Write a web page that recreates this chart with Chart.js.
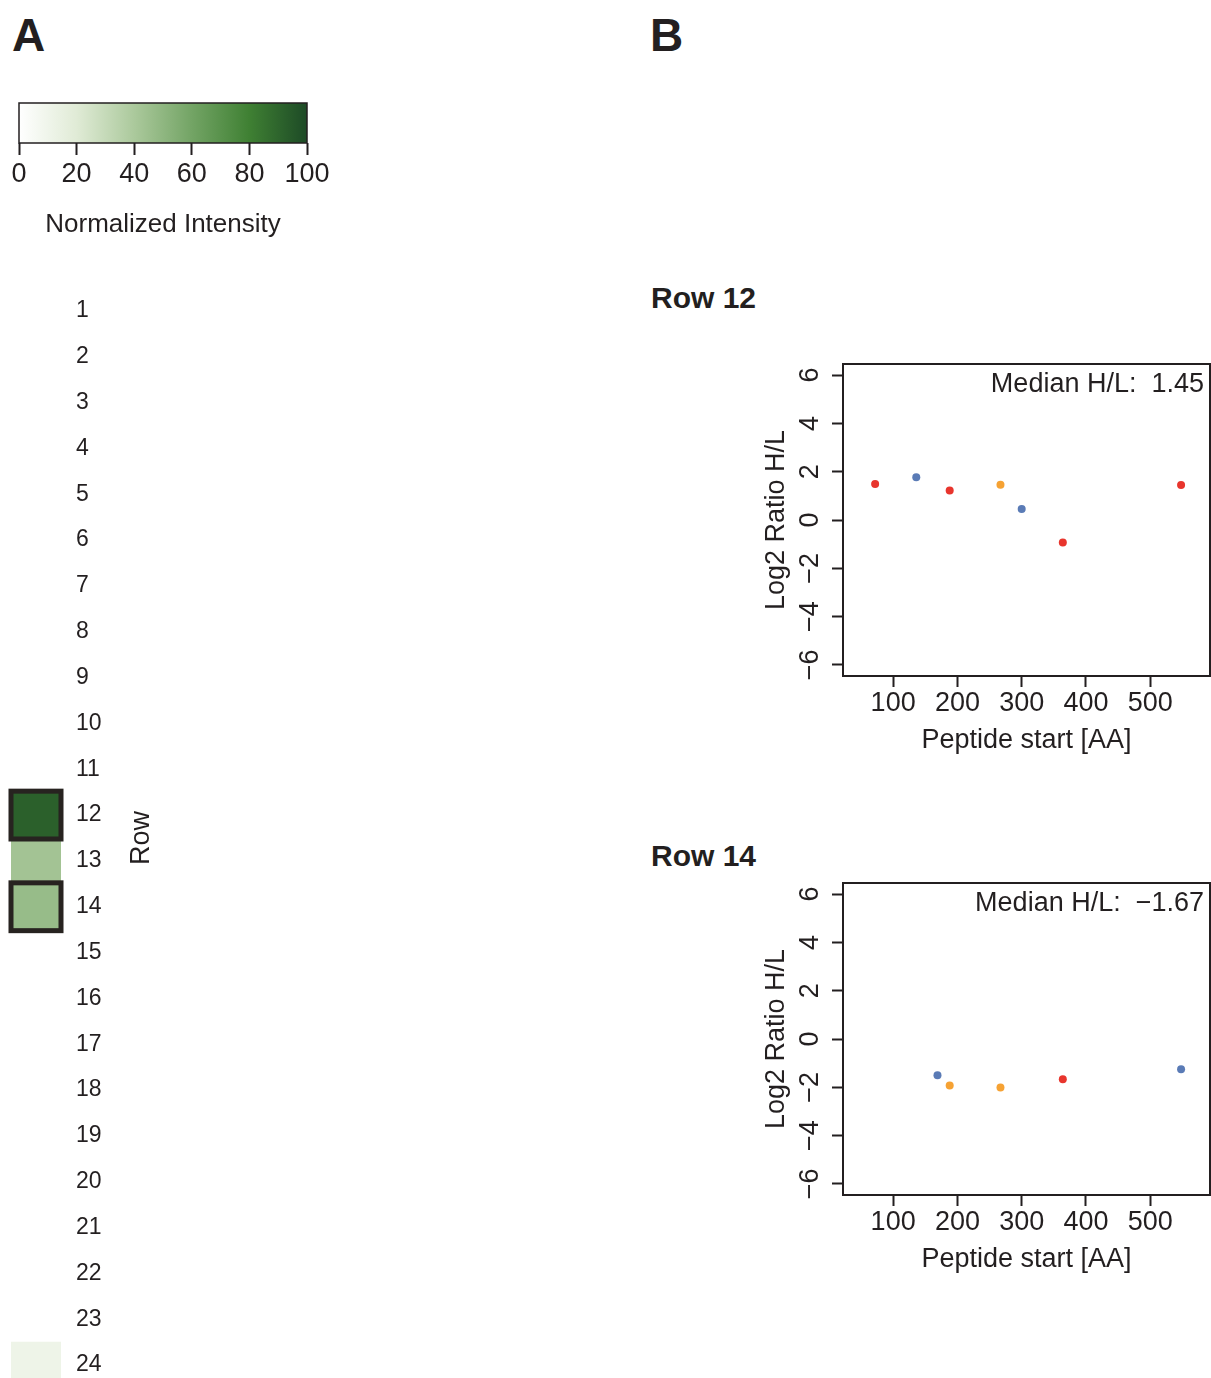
<!DOCTYPE html>
<html>
<head>
<meta charset="utf-8">
<script src="https://cdn.jsdelivr.net/npm/chart.js@4/dist/chart.umd.min.js"></script>
<style>
html, body { margin: 0; padding: 0; background: #fff; overflow: hidden; width: 1211px; height: 1378px; }
body { position: relative; font-family: "Liberation Sans", Arial, sans-serif; color: #231f20; }
.box { position: absolute; }
.lbl { position: absolute; font-weight: bold; line-height: 1; white-space: nowrap; }
</style>
</head>
<body>
<div class="lbl" style="left:12px; top:12px; font-size:46px;">A</div>
<div class="lbl" style="left:650px; top:12px; font-size:46px;">B</div>
<div class="lbl" style="left:651px; top:283px; font-size:30px;">Row 12</div>
<div class="lbl" style="left:651px; top:841px; font-size:30px;">Row 14</div>

<div class="box" style="left:0; top:95px; width:345px; height:160px;"><canvas id="legendBar"></canvas></div>
<div class="box" style="left:0; top:280px; width:170px; height:1110px;"><canvas id="heatCol"></canvas></div>
<div class="box" style="left:740px; top:350px; width:471px; height:420px;"><canvas id="scRow12"></canvas></div>
<div class="box" style="left:740px; top:869px; width:471px; height:420px;"><canvas id="scRow14"></canvas></div>

<script>
// ---- data ----
var rows = ['1','2','3','4','5','6','7','8','9','10','11','12','13','14','15','16','17','18','19','20','21','22','23','24'];
var rowIntensity = [null, null, null, null, null, null, null, null, null, null, null, 92, 43, 47,
                    null, null, null, null, null, null, null, null, null, 11];
var highlightRows = ['12', '14'];
var legendTicks = [0, 20, 40, 60, 80, 100];

var row12Start = [72, 136, 188, 267, 300, 364, 548];
var row12Ratio = [1.49, 1.77, 1.22, 1.46, 0.46, -0.93, 1.45];
var row12Group = ['red', 'blue', 'red', 'orange', 'blue', 'red', 'red'];

var row14Start = [169, 188, 267, 364, 548];
var row14Ratio = [-1.50, -1.93, -2.01, -1.67, -1.25];
var row14Group = ['blue', 'orange', 'orange', 'red', 'blue'];

var medianRatio = [1.45, -1.67];
var xTicks = [100, 200, 300, 400, 500];
var yTicks = [-6, -4, -2, 0, 2, 4, 6];

// ---- style ----
var INK = '#231f20';
var FONT = '"Liberation Sans", Arial, sans-serif';
var groupColors = { red: '#e8352d', blue: '#5a7bb6', orange: '#f6a233' };
var greenStops = [[0, '#ffffff'], [20, '#e0ebd6'], [40, '#abc99c'], [60, '#73a465'], [80, '#3f8033'], [100, '#1d4a26']];

Chart.defaults.font.family = FONT;
Chart.defaults.color = INK;
Chart.defaults.animation = false;

function hexRgb(h) {
    return [parseInt(h.substr(1, 2), 16), parseInt(h.substr(3, 2), 16), parseInt(h.substr(5, 2), 16)];
}
function greenFor(v) {
    for (var i = 1; i < greenStops.length; i++) {
        if (v <= greenStops[i][0]) {
            var a = greenStops[i - 1], b = greenStops[i];
            var t = (v - a[0]) / (b[0] - a[0]);
            var ca = hexRgb(a[1]), cb = hexRgb(b[1]);
            return 'rgb(' + ca.map(function (c, k) { return Math.round(c + (cb[k] - c) * t); }).join(',') + ')';
        }
    }
    return greenStops[greenStops.length - 1][1];
}
function minusFmt(v) { return v < 0 ? '\u2212' + Math.abs(v) : String(v); }

// ---- colour key ----
new Chart(document.getElementById('legendBar'), {
    type: 'scatter',
    data: { datasets: [{ data: [] }] },
    options: {
        responsive: true, maintainAspectRatio: false,
        layout: { autoPadding: false, padding: { left: 19, right: 38, top: 8, bottom: 0 } },
        plugins: { legend: { display: false }, tooltip: { enabled: false } },
        scales: {
            y: { display: false },
            x: {
                type: 'linear', min: 0, max: 100,
                afterBuildTicks: function (s) { s.ticks = legendTicks.map(function (v) { return { value: v }; }); },
                afterFit: function (s) { s.height = 112; },
                grid: { drawOnChartArea: false, tickLength: 12, tickWidth: 2, tickColor: INK },
                border: { display: false },
                ticks: { font: { size: 27 }, padding: 3, maxRotation: 0, autoSkip: false },
                title: { display: true, text: 'Normalized Intensity', font: { size: 26 }, padding: { top: 0, bottom: 15 } }
            }
        }
    },
    plugins: [{
        id: 'gradientBar',
        beforeDatasetsDraw: function (chart) {
            var a = chart.chartArea, s = chart.scales.x, ctx = chart.ctx;
            var g = ctx.createLinearGradient(s.getPixelForValue(0), 0, s.getPixelForValue(100), 0);
            greenStops.forEach(function (st) { g.addColorStop(st[0] / 100, st[1]); });
            ctx.save();
            ctx.fillStyle = g;
            ctx.fillRect(a.left, a.top, a.right - a.left, a.bottom - a.top);
            ctx.strokeStyle = INK; ctx.lineWidth = 1.5;
            ctx.strokeRect(a.left, a.top, a.right - a.left, a.bottom - a.top);
            ctx.restore();
        }
    }]
});

// ---- heatmap column ----
new Chart(document.getElementById('heatCol'), {
    type: 'bar',
    data: {
        labels: rows,
        datasets: [{
            data: rowIntensity.map(function (v) { return v == null ? null : [0, 1]; }),
            backgroundColor: rowIntensity.map(function (v) { return v == null ? 'rgba(0,0,0,0)' : greenFor(v); }),
            borderWidth: 0, barPercentage: 1, categoryPercentage: 1
        }]
    },
    options: {
        indexAxis: 'y',
        responsive: true, maintainAspectRatio: false,
        layout: { autoPadding: false, padding: { left: 11, right: 0, top: 8, bottom: 2 } },
        plugins: { legend: { display: false }, tooltip: { enabled: false } },
        scales: {
            x: { display: false, min: 0, max: 1 },
            y: {
                position: 'right',
                afterFit: function (s) { s.width = 109; s.paddingTop = 0; s.paddingBottom = 0; },
                grid: { display: false, drawTicks: false },
                border: { display: false },
                ticks: { font: { size: 23 }, padding: 15, autoSkip: false }
            }
        }
    },
    plugins: [{
        id: 'outlineAndTitle',
        afterDatasetsDraw: function (chart) {
            var ctx = chart.ctx, a = chart.chartArea;
            var bars = chart.getDatasetMeta(0).data;
            ctx.save();
            ctx.strokeStyle = '#272320'; ctx.lineWidth = 5;
            highlightRows.forEach(function (r) {
                var el = bars[rows.indexOf(r)];
                var p = el.getProps(['x', 'y', 'base', 'height'], true);
                var l = Math.min(p.base, p.x), w = Math.abs(p.x - p.base);
                ctx.strokeRect(l, p.y - p.height / 2 - 1, w, p.height + 2);
            });
            ctx.translate(a.right + 81, (a.top + a.bottom) / 2);
            ctx.rotate(-Math.PI / 2);
            ctx.fillStyle = INK; ctx.font = '27px ' + FONT;
            ctx.textAlign = 'center'; ctx.textBaseline = 'middle';
            ctx.fillText('Row', 0, 0);
            ctx.restore();
        }
    }]
});

// ---- scatter panels ----
var boxAndLabels = {
    id: 'boxAndLabels',
    afterDraw: function (chart) {
        var ctx = chart.ctx, a = chart.chartArea, s = chart.scales.y;
        ctx.save();
        ctx.strokeStyle = INK; ctx.lineWidth = 2;
        ctx.strokeRect(a.left, a.top, a.right - a.left, a.bottom - a.top);
        ctx.fillStyle = INK; ctx.font = '27px ' + FONT;
        ctx.textAlign = 'center'; ctx.textBaseline = 'middle';
        s.ticks.forEach(function (t) {
            ctx.save();
            ctx.translate(a.left - 32, s.getPixelForValue(t.value));
            ctx.rotate(-Math.PI / 2);
            ctx.fillText(minusFmt(t.value), 0, 0);
            ctx.restore();
        });
        var med = chart.options.plugins.boxAndLabels.median;
        ctx.textAlign = 'right';
        ctx.fillText('Median H/L:  ' + minusFmt(med.toFixed(2)), a.right - 6, a.top + 21);
        ctx.restore();
    }
};

function makeScatter(id, starts, ratios, groups, median) {
    return new Chart(document.getElementById(id), {
        type: 'scatter',
        data: {
            datasets: [{
                data: starts.map(function (x, i) { return { x: x, y: ratios[i] }; }),
                backgroundColor: groups.map(function (g) { return groupColors[g]; }),
                pointRadius: 4, borderWidth: 0
            }]
        },
        options: {
            responsive: true, maintainAspectRatio: false,
            layout: { autoPadding: false, padding: { left: 0, right: 1, top: 14, bottom: 0 } },
            plugins: { legend: { display: false }, tooltip: { enabled: false }, boxAndLabels: { median: median } },
            scales: {
                x: {
                    type: 'linear', min: 22, max: 593,
                    afterBuildTicks: function (s) { s.ticks = xTicks.map(function (v) { return { value: v }; }); },
                    afterFit: function (s) { s.height = 94; },
                    grid: { drawOnChartArea: false, tickLength: 11, tickWidth: 2, tickColor: INK },
                    border: { display: false },
                    ticks: { font: { size: 27 }, padding: 0, maxRotation: 0, autoSkip: false },
                    title: { display: true, text: 'Peptide start [AA]', font: { size: 27 }, padding: { top: 0, bottom: 13 } }
                },
                y: {
                    type: 'linear', min: -6.46, max: 6.46,
                    afterBuildTicks: function (s) { s.ticks = yTicks.map(function (v) { return { value: v }; }); },
                    afterFit: function (s) { s.width = 103; },
                    grid: { drawOnChartArea: false, tickLength: 11, tickWidth: 2, tickColor: INK },
                    border: { display: false },
                    ticks: { display: false },
                    title: { display: true, text: 'Log2 Ratio H/L', font: { size: 27 }, padding: { top: 20, bottom: 0 } }
                }
            }
        },
        plugins: [boxAndLabels]
    });
}

makeScatter('scRow12', row12Start, row12Ratio, row12Group, medianRatio[0]);
makeScatter('scRow14', row14Start, row14Ratio, row14Group, medianRatio[1]);
</script>
</body>
</html>
